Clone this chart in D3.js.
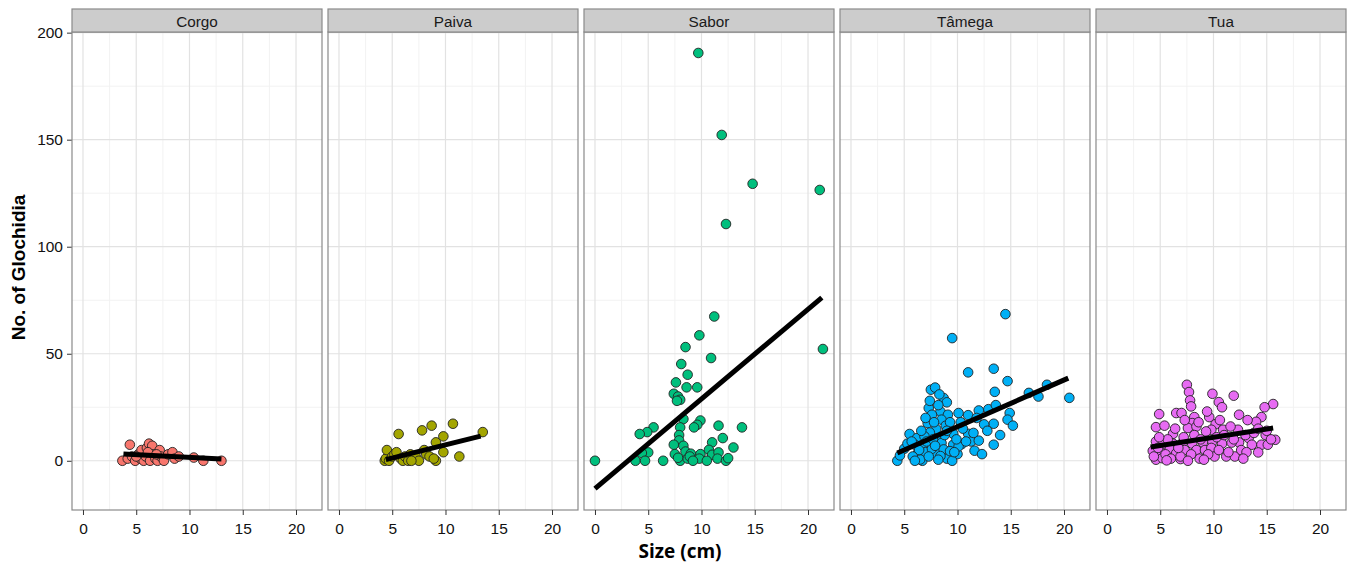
<!DOCTYPE html>
<html><head><meta charset="utf-8">
<script src="https://cdn.jsdelivr.net/npm/d3@7"></script>
<style>body{margin:0;background:#fff}svg{display:block}</style>
</head><body><svg id="c" width="1351" height="565"></svg>
<script>
const rivers = ["Corgo","Paiva","Sabor","Tâmega","Tua"];
const colors = ["#F8766D","#A3A500","#00BF7D","#00B0F6","#E76BF3"];
const xTicks = [0,5,10,15,20];
const yTicks = [0,50,100,150,200];

const corgo = [[3.7,0],[4.2,1],[4.4,7.5],[4.6,2],[4.9,0],[5.2,3],[5.4,1],[5.5,5],[5.7,0],[5.9,2],[6.0,6],[6.2,8],[6.3,0],[6.5,7],[6.6,3],[6.8,1],[7.0,0],[7.2,5],[7.3,2],[7.6,0],[8.0,3],[8.4,4],[8.6,1],[9.0,2],[10.4,1.5],[11.3,0],[13.0,0],[5.0,2],[6.1,4],[6.9,3]];
const paiva = [[4.3,0],[4.4,1],[4.5,5],[4.7,0],[5.0,2],[5.2,3],[5.4,4],[5.6,12.5],[5.8,1],[6.0,0],[6.2,2],[6.5,0],[6.7,3],[7.0,1],[7.2,2],[7.5,0],[7.8,14.2],[8.0,5],[8.2,3],[8.5,2],[8.7,16.4],[9.1,8.6],[9.1,0],[9.8,11.4],[9.8,4],[10.7,17.3],[11.3,2],[13.5,13.4],[6.8,0],[8.9,1]];
const sabor = [[0,0],[11.2,67.4],[9.8,58.6],[8.5,53.1],[10.9,48],[21.4,52.2],[8.1,45.2],[8.7,40.2],[7.6,36.6],[8.6,34.3],[9.6,34.3],[7.4,31.3],[7.8,30],[8.0,28.5],[7.7,28],[8.3,19.5],[9.9,18.8],[9.6,16.8],[9.3,15.6],[8.0,15.6],[11.6,16.4],[13.8,15.6],[5.5,15.6],[4.9,13.4],[4.2,12.5],[7.9,12],[7.9,9.5],[12.0,10.6],[7.4,7.5],[8.3,7],[11.0,8.6],[13.0,6.2],[5.0,3.9],[4.4,3.6],[7.5,3.1],[8.5,4.3],[9.0,3.3],[9.9,3.1],[10.7,5.1],[11.0,2.8],[11.6,3.9],[3.8,0],[4.7,0],[6.4,0],[8.0,0],[8.7,1],[9.8,1],[10.5,0],[11.5,1],[12.3,0],[12.5,1.2],[7.8,1.4],[8.9,2],[9.2,0],[9.7,190.5],[11.9,152.2],[14.8,129.4],[21.1,126.5],[12.3,110.6]];
const tamega = [[4.35,0],[14.5,68.5],[9.5,57.3],[11.0,41.3],[13.4,43],[14.7,37.2],[7.5,33.2],[7.9,34.2],[13.5,32.2],[20.5,29.4],[18.4,35.5],[17.6,30],[16.7,31.7],[8.7,29.3],[9.0,27.3],[7.3,24.6],[8.4,23],[7.6,21.5],[9.1,21.5],[10.1,22.3],[11.0,21.3],[12.0,23.5],[12.9,24.1],[13.6,26],[14.9,22.3],[14.7,19.2],[15.2,16.4],[13.4,17.3],[7.2,17.6],[8.5,19.2],[8.9,16.4],[8.0,14.8],[9.6,12.6],[7.4,13.2],[11.0,12.6],[5.5,12.5],[6.2,10.6],[6.9,11.4],[8.4,10.6],[11.3,9],[12.0,9.4],[13.4,7.5],[10.4,7.8],[9.6,7.5],[8.5,8.3],[6.8,6.7],[6.0,7.5],[11.6,4.7],[12.3,3.1],[10.0,3.1],[8.0,3.3],[9.0,1.0],[6.7,0],[6.3,3.7],[7.0,4],[7.6,5.6],[8.7,5.3],[5.0,5.6],[4.6,2.5],[6.5,0.6],[8.4,2.2],[9.3,4.5],[10.1,6.7],[7.0,20],[7.8,18],[8.2,26],[9.3,18],[10.5,15],[11.5,13],[12.5,17],[7.1,9],[7.7,10],[8.8,12],[9.9,10],[10.8,9],[6.4,5],[7.3,2],[8.2,0.5],[9.5,0],[5.8,2],[6.0,0],[5.3,8],[11.8,20],[12.8,14],[7.4,28],[8.3,31],[14.0,12],[10.3,18],[9.0,14],[6.6,14],[5.7,9],[7.9,7],[9.7,4]];
const tua = [[7.5,35.5],[7.7,32.1],[9.9,31.3],[11.9,30.4],[7.8,28.2],[10.5,27.4],[10.8,25],[7.9,25.4],[15.6,26.5],[14.8,25],[4.9,21.8],[6.5,22.3],[7.0,22.3],[9.6,20.4],[12.4,21.5],[8.2,20.4],[8.0,17.6],[10.2,17.1],[14.5,20.4],[14.0,18.2],[4.6,15.7],[5.4,16.4],[7.6,15.3],[8.4,16],[9.8,14.5],[10.9,14.5],[12.3,14.5],[6.2,12.6],[9.3,13.7],[14.9,12],[13.3,10.6],[15.8,9.8],[12.4,8.6],[13.6,7.5],[14.5,7.5],[15.1,7.5],[14.2,3.9],[4.6,9],[5.2,7.5],[6.2,8],[7.1,8.5],[8.0,8],[9.0,8.5],[9.9,9],[10.8,8],[11.7,8.5],[4.3,4.6],[5.0,4],[5.9,5.5],[6.5,3.5],[7.3,5],[8.4,5],[9.2,5],[9.8,6],[4.6,0.5],[5.2,1.2],[6.9,0.8],[8.7,1],[10.1,2],[11.2,2],[12.0,2],[6.9,2],[4.4,2],[4.8,6],[5.5,3],[5.7,10],[6.0,1],[6.7,6],[7.2,11],[7.9,3],[8.2,12],[8.8,10],[9.5,3],[10.3,11],[10.5,5],[11.0,12],[11.4,4],[11.9,10],[12.6,5],[13.0,12],[13.8,13],[14.2,15],[15.0,14],[15.4,10],[13.1,4],[12.8,1],[9.1,0.5],[7.6,0],[5.6,0.2],[4.9,11],[6.4,15],[8.6,18],[10.6,19],[11.6,16],[13.2,19],[9.4,23],[7.3,19]];
const points = [corgo, paiva, sabor, tamega, tua];

// fitted regression lines: [x, y] at start and end
const fitStart = [[3.8,3.2],[4.4,0.5],[0,-13],[4.35,3.6],[4.1,6.4]];
const fitEnd   = [[13.0,0.8],[13.3,11.5],[21.3,76.2],[20.4,38.6],[15.6,15.3]];

const svg = d3.select("#c");
const panelW = 250, panelStep = 256, left0 = 72, plotTop = 32, plotBottom = 510;
const x = d3.scaleLinear().domain([-1.03,22.44]).range([0,panelW]);
const y = d3.scaleLinear().domain([-23.0,200.3]).range([plotBottom,plotTop]);
const xMinor = [2.5,7.5,12.5,17.5];
const yMinor = [25,75,125,175];
const tickFont = "'Liberation Sans', Arial, sans-serif";

const yAxis = svg.append("g").attr("transform",`translate(${left0},0)`)
  .call(d3.axisLeft(y).tickValues(yTicks).tickSize(5).tickPadding(4));
yAxis.select(".domain").remove();
yAxis.selectAll("line").attr("stroke","#333");
yAxis.selectAll("text").attr("font-family",tickFont).attr("font-size",15.5).attr("fill","#111");

rivers.forEach((r,i)=>{
  const ox = left0 + i*panelStep;
  const g = svg.append("g").attr("transform",`translate(${ox},0)`);
  g.append("rect").attr("x",0).attr("y",plotTop).attr("width",panelW).attr("height",plotBottom-plotTop).attr("fill","#fff");
  g.selectAll(".mx").data(xMinor).join("line").attr("class","mx").attr("x1",d=>x(d)).attr("x2",d=>x(d)).attr("y1",plotTop).attr("y2",plotBottom).attr("stroke","#f2f2f2").attr("stroke-width",1);
  g.selectAll(".my").data(yMinor).join("line").attr("class","my").attr("y1",d=>y(d)).attr("y2",d=>y(d)).attr("x1",0).attr("x2",panelW).attr("stroke","#f2f2f2").attr("stroke-width",1);
  g.selectAll(".Mx").data(xTicks).join("line").attr("class","Mx").attr("x1",d=>x(d)).attr("x2",d=>x(d)).attr("y1",plotTop).attr("y2",plotBottom).attr("stroke","#e2e2e2").attr("stroke-width",1.2);
  g.selectAll(".My").data(yTicks).join("line").attr("class","My").attr("y1",d=>y(d)).attr("y2",d=>y(d)).attr("x1",0).attr("x2",panelW).attr("stroke","#e2e2e2").attr("stroke-width",1.2);
  g.selectAll("circle").data(points[i]).join("circle")
    .attr("cx",d=>x(d[0])).attr("cy",d=>y(d[1])).attr("r",4.8)
    .attr("fill",colors[i]).attr("stroke","#222").attr("stroke-width",0.9);
  g.append("line").attr("x1",x(fitStart[i][0])).attr("y1",y(fitStart[i][1]))
    .attr("x2",x(fitEnd[i][0])).attr("y2",y(fitEnd[i][1]))
    .attr("stroke","#000").attr("stroke-width",5);
  g.append("rect").attr("x",0).attr("y",plotTop).attr("width",panelW).attr("height",plotBottom-plotTop)
    .attr("fill","none").attr("stroke","#8a8a8a").attr("stroke-width",1.2);
  g.append("rect").attr("x",0).attr("y",9).attr("width",panelW).attr("height",plotTop-9)
    .attr("fill","#cccccc").attr("stroke","#8a8a8a").attr("stroke-width",1.2);
  g.append("text").attr("x",panelW/2).attr("y",26.5).attr("text-anchor","middle")
    .attr("font-family",tickFont).attr("font-size",15.3).attr("fill","#1a1a1a").text(r);
  const xa = g.append("g").attr("transform",`translate(0,${plotBottom})`)
    .call(d3.axisBottom(x).tickValues(xTicks).tickSize(5).tickPadding(8));
  xa.select(".domain").remove();
  xa.selectAll("line").attr("stroke","#333");
  xa.selectAll("text").attr("font-family",tickFont).attr("font-size",15.5).attr("fill","#111");
});

svg.append("text").attr("x",680).attr("y",558).attr("text-anchor","middle")
  .attr("font-family","'Open Sans', sans-serif").attr("font-weight","bold").attr("font-size",19).text("Size (cm)");
svg.append("text").attr("transform","translate(24.5,267.5) rotate(-90)").attr("text-anchor","middle")
  .attr("font-family","'Liberation Sans', Arial, sans-serif").attr("font-weight","bold").attr("font-size",19).text("No. of Glochidia");
</script></body></html>
